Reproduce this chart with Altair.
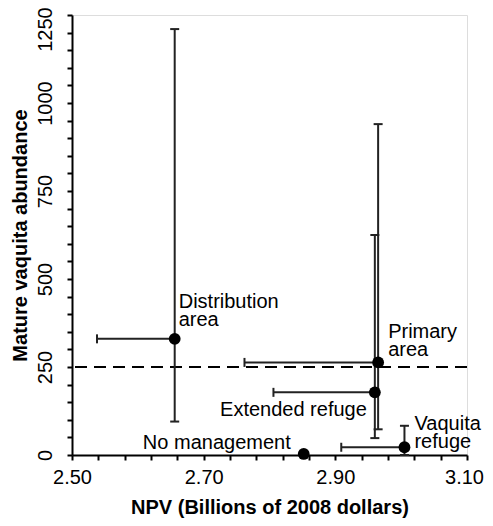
import altair as alt
import pandas as pd

# ---- data ----
scenarios = ["Distribution area", "Primary area", "Extended refuge", "Vaquita refuge", "No management"]
npv = [2.656, 2.965, 2.960, 3.005, 2.852]
npv_low = [2.538, 2.762, 2.806, 2.909, None]
abundance = [330, 263, 178, 22, 3]
abund_low = [95, 73, 48, 0, None]
abund_high = [1210, 940, 625, 83, None]
threshold = [250]

x_ticks = [2.50, 2.54, 2.58, 2.62, 2.66, 2.70, 2.74, 2.78, 2.82, 2.86,
           2.90, 2.94, 2.98, 3.02, 3.06, 3.10]
x_labels = ["2.50", "2.70", "2.90", "3.10"]
y_ticks = [0, 50, 100, 150, 200, 250, 300, 350, 400, 450, 500, 550, 600,
           650, 700, 750, 800, 850, 900, 950, 1000, 1050, 1100, 1150, 1200, 1250]

df = pd.DataFrame({
    "scenario": scenarios,
    "npv": npv,
    "npv_low": npv_low,
    "abundance": abundance,
    "abund_low": abund_low,
    "abund_high": abund_high,
})

FONT = "Liberation Sans"
INK = "#222222"

x_axis = alt.Axis(
    values=x_ticks, format=".2f",
    labelExpr="indexof(" + str(x_labels) + ", datum.label) >= 0 ? datum.label : ''",
    grid=False, tickSize=5, tickWidth=2, tickColor="black",
    domainColor="black", domainWidth=2,
    labelFont=FONT, labelFontSize=20, labelColor="black", labelPadding=7,
    labelOffset={"condition": {"test": "datum.value > 3.09", "value": -3}, "value": 0},
    labelOverlap=False, labelFlush=False,
    titleFont=FONT, titleFontSize=20, titleFontWeight="bold", titleColor="black",
    titlePadding=10,
)
y_axis = alt.Axis(
    values=y_ticks, format="d",
    labelExpr="datum.value % 250 == 0 ? datum.label : ''",
    grid=False, tickSize=5, tickWidth=2, tickColor="black",
    domainColor="black", domainWidth=2,
    labelFont=FONT, labelFontSize=20, labelColor="black", labelPadding=12,
    labelAngle=270, labelAlign="center", labelBaseline="bottom",
    labelOffset={"condition": {"test": "datum.value == 1250", "value": 14}, "value": 0},
    labelOverlap=False, labelFlush=False,
    titleFont=FONT, titleFontSize=20, titleFontWeight="bold", titleColor="black",
    titlePadding=5,
)

x_scale = alt.Scale(domain=[2.5, 3.1], nice=False, zero=False)
y_scale = alt.Scale(domain=[0, 1250], nice=False, zero=False)
X_TITLE = "NPV (Billions of 2008 dollars)"
Y_TITLE = "Mature vaquita abundance"


def X(field):
    return alt.X(field, type="quantitative", scale=x_scale, axis=x_axis, title=X_TITLE)


def Y(field):
    return alt.Y(field, type="quantitative", scale=y_scale, axis=y_axis, title=Y_TITLE)


base = alt.Chart(df)
with_y_err = base.transform_filter("isValid(datum.abund_high)")
with_x_err = base.transform_filter("isValid(datum.npv_low)")

threshold_line = alt.Chart(pd.DataFrame({"t": threshold})).mark_rule(
    color="black", strokeWidth=2, strokeDash=[12, 7]
).encode(y=Y("t"))

v_bars = with_y_err.mark_rule(color=INK, strokeWidth=2).encode(
    x=X("npv"), y=Y("abund_low"), y2="abund_high"
)
v_cap_top = with_y_err.mark_tick(orient="horizontal", size=9, thickness=2, color=INK, opacity=1).encode(
    x=X("npv"), y=Y("abund_high")
)
v_cap_bot = with_y_err.mark_tick(orient="horizontal", size=9, thickness=2, color=INK, opacity=1).encode(
    x=X("npv"), y=Y("abund_low")
)
h_bars = with_x_err.mark_rule(color=INK, strokeWidth=2).encode(
    x=X("npv_low"), x2="npv", y=Y("abundance")
)
h_cap = with_x_err.mark_tick(orient="vertical", size=9, thickness=2, color=INK, opacity=1).encode(
    x=X("npv_low"), y=Y("abundance")
)
points = base.mark_circle(size=140, color="black", opacity=1).encode(
    x=X("npv"), y=Y("abundance")
)


def label(name, text, dx, dy, align):
    return base.transform_filter(alt.datum.scenario == name).mark_text(
        text=text, dx=dx, dy=dy, align=align, baseline="alphabetic",
        font=FONT, fontSize=20, color="black", lineHeight=18,
    ).encode(x=X("npv"), y=Y("abundance"))


labels = [
    label("Distribution area", ["Distribution", "area"], 4, -31, "left"),
    label("Primary area", ["Primary", "area"], 10, -24, "left"),
    label("Extended refuge", "Extended refuge", -8, 24, "right"),
    label("Vaquita refuge", ["Vaquita", "refuge"], 10, -17, "left"),
    label("No management", "No management", -13, -5, "right"),
]

chart = alt.layer(
    threshold_line, v_bars, v_cap_top, v_cap_bot, h_bars, h_cap, points, *labels
).properties(
    width=395, height=440,
    autosize=alt.AutoSizeParams(type="none"),
    padding={"left": 64, "top": 7, "right": 18, "bottom": 63},
).configure_view(stroke=None).configure(background="white")

chart.save("out.html", embed_options={"renderer": "svg", "actions": False})
